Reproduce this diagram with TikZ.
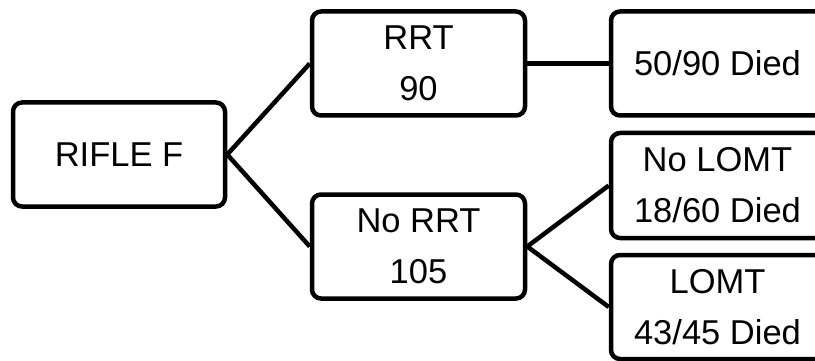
\documentclass[tikz,border=0pt]{standalone}
\usepackage{fontspec}
\setmainfont{Liberation Sans}
\usepackage{tikz}

\begin{document}
\begin{tikzpicture}[x=1pt, y=-1pt,
    every node/.style={font=\fontsize{34.5}{51}\selectfont},
    treeBox/.style={draw, line width=4.5pt, rounded corners=9pt,
        minimum width=213pt, minimum height=104pt, inner sep=0pt, align=center},
    branchLine/.style={line width=4.5pt}]

\useasboundingbox (0,0) rectangle (815,361);
\clip (0,0) rectangle (815,361);

% Root
\node[treeBox, minimum width=212pt] (rifle) at (119,154.5) {RIFLE F};

% First split (RRT or not)
\node[treeBox] (rrt) at (418.5,63.5) {RRT\\90};
\node[treeBox] (noRrt) at (418.5,246.5) {No RRT\\105};
\draw[branchLine] (rifle.east) -- (rrt.west);
\draw[branchLine] (rifle.east) -- (noRrt.west);

% Outcomes
\node[treeBox] (diedRrt) at (717.5,63.5) {50/90 Died};
\node[treeBox, minimum height=105pt] (noLomt) at (717.5,185.5) {No LOMT\\18/60 Died};
\node[treeBox] (lomt) at (717.5,307) {LOMT\\43/45 Died};
\draw[branchLine] (rrt.east) -- (diedRrt.west);
\draw[branchLine] (noRrt.east) -- (noLomt.west);
\draw[branchLine] (noRrt.east) -- (lomt.west);

\end{tikzpicture}
\end{document}
